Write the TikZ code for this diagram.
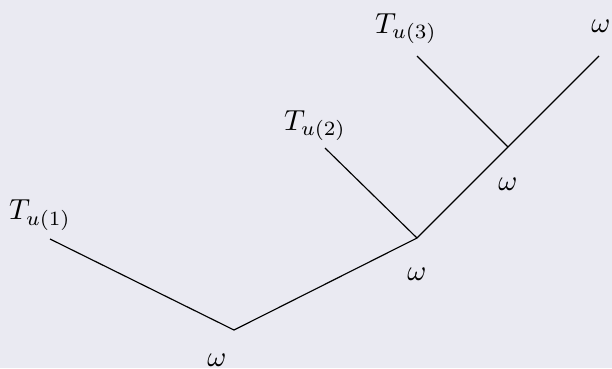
\documentclass[tikz,border=0pt]{standalone}
\definecolor{bgc}{RGB}{234,234,242}
\begin{document}
\begin{tikzpicture}[x=0.345pt,y=-0.345pt,
  edge/.style={draw=black,line width=0.4pt},
  lab/.style={inner sep=0pt,anchor=center}]
\fill[bgc] (0,0) rectangle (612,368);
\useasboundingbox (0,0) rectangle (612,368);
% vertices
\coordinate (v1) at (234,330);
\coordinate (v2) at (417,238);
\coordinate (v3) at (508,147);
% leaf ends
\coordinate (l1) at (50,239);
\coordinate (l2) at (325,148);
\coordinate (l3) at (417,56);
\coordinate (l4) at (599,56);
% labels
\node[lab] (t1) at (40,215) {$T_{u(1)}$};
\node[lab] (t2) at (315,126) {$T_{u(2)}$};
\node[lab] (t3) at (406,29) {$T_{u(3)}$};
\node[lab] (w1) at (217,360) {$\omega$};
\node[lab] (w2) at (417,274) {$\omega$};
\node[lab] (w3) at (508,184) {$\omega$};
\node[lab] (w4) at (601,26) {$\omega$};
% edges
\draw[edge] (l1) -- (v1) -- (v2) -- (v3) -- (l4);
\draw[edge] (l2) -- (v2);
\draw[edge] (l3) -- (v3);
\end{tikzpicture}
\end{document}
